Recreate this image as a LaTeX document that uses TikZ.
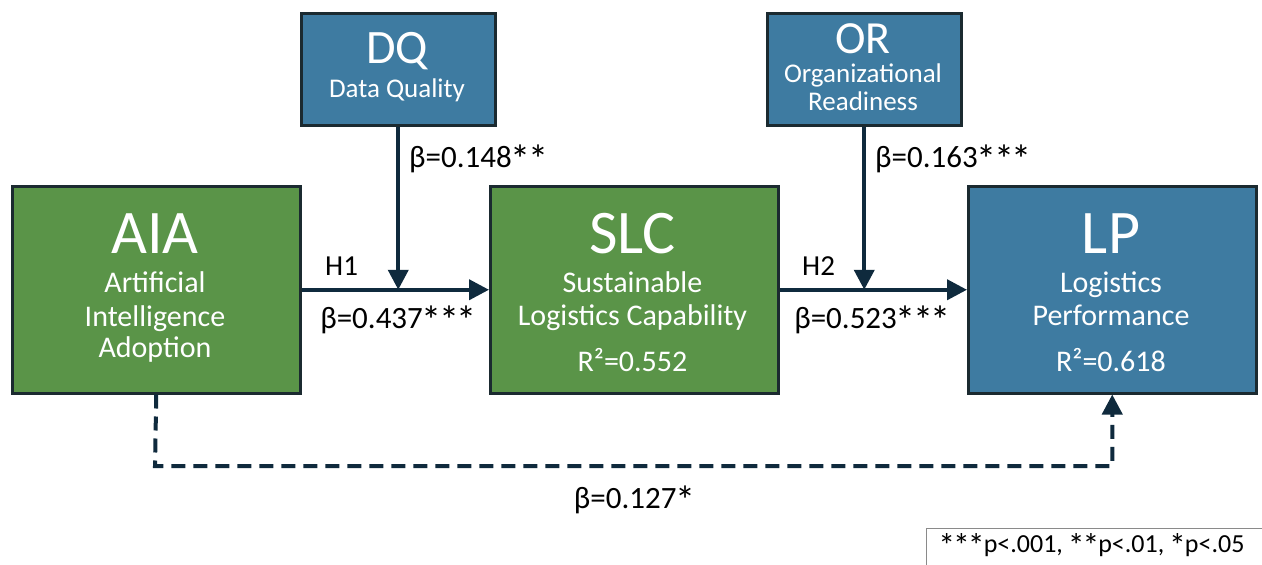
\documentclass[tikz,border=0pt]{standalone}
\usepackage{fontspec}
\usepackage{graphicx}
\setmainfont{Carlito}
\usetikzlibrary{arrows.meta}
\definecolor{boxgreen}{HTML}{5A9448}
\definecolor{boxblue}{HTML}{3E7BA1}
\definecolor{boxedge}{HTML}{1B2A30}
\definecolor{ink}{HTML}{0F2A3D}
\definecolor{legendedge}{HTML}{8A8A8A}
\newcommand{\fs}[1]{\fontsize{#1}{#1}\selectfont}
% a larger significance star
\newcommand{\stm}{\kern-0.04em\raisebox{-0.2em}{\scalebox{1.3}{*}}\kern-0.04em}
\begin{document}
\begin{tikzpicture}[x=1pt,y=-1pt,
  box/.style={draw=boxedge, line width=2.5pt, inner sep=0pt, anchor=north west},
  bigbox/.style={box, minimum width=288pt, minimum height=207pt},
  modbox/.style={box, minimum width=194pt, minimum height=112pt, fill=boxblue},
  txt/.style={anchor=base, inner sep=0pt, text=white},
  lbl/.style={inner sep=0pt, text=black, font=\fs{31}},
  conn/.style={draw=ink, line width=4pt, -{Triangle[length=20pt,width=20pt]}},
  direct/.style={conn, dash pattern=on 14pt off 8pt}]
\useasboundingbox[fill=white] (0,0) rectangle (1262,565);

% construct boxes
\node[bigbox, fill=boxgreen] (aia) at (11,185) {};
\node[bigbox, fill=boxgreen] (slc) at (489,185) {};
\node[bigbox, fill=boxblue]  (lp)  at (967,185) {};
\node[modbox] (dq) at (300,12) {};
\node[modbox] (or) at (766,12) {};

% AIA
\node[txt, font=\fs{62}] (aiaA) at (155,253) {AIA};
\node[txt, font=\fs{30}] (aiaB) at (155,292) {Artificial};
\node[txt, font=\fs{30}] (aiaC) at (155,326) {Intelligence};
\node[txt, font=\fs{30}] (aiaD) at (155,357) {Adoption};

% SLC
\node[txt, font=\fs{62}] (slcA) at (632.5,253) {SLC};
\node[txt, font=\fs{30}] (slcB) at (632.5,292) {Sustainable};
\node[txt, font=\fs{30}] (slcC) at (632.5,325) {Logistics Capability};
\node[txt, font=\fs{30}] (slcD) at (632.5,371) {R²=0.552};

% LP
\node[txt, font=\fs{62}] (lpA) at (1111,253) {LP};
\node[txt, font=\fs{30}] (lpB) at (1111,292) {Logistics};
\node[txt, font=\fs{30}] (lpC) at (1111,325) {Performance};
\node[txt, font=\fs{30}] (lpD) at (1111,371) {R²=0.618};

% moderators
\node[txt, font=\fs{48}] (dqA) at (397,63) {DQ};
\node[txt, font=\fs{27}] (dqB) at (397,97) {Data Quality};
\node[txt, font=\fs{46}] (orA) at (863,53) {OR};
\node[txt, font=\fs{27}] (orB) at (863,82) {Organizational};
\node[txt, font=\fs{27}] (orC) at (863,110) {Readiness};

% paths
\draw[conn] (aia.east) -- (slc.west);
\draw[conn] (slc.east) -- (lp.west);
\draw[conn] (dq.south) -- (dq.south |- aia.east);
\draw[conn] (or.south) -- (or.south |- slc.east);
\coordinate (dleft) at (155,466);
\draw[direct] (aia.south) -- (dleft) -| (lp.south);

% path labels
\node[lbl, anchor=base west] (b148) at (409,167) {β=0.148\stm\stm};
\node[lbl, anchor=base west, font=\fs{29}] (h1) at (325,275) {H1};
\node[lbl, anchor=base] (b437) at (398,328) {β=0.437\stm\stm\stm};
\node[lbl, anchor=base west] (b163) at (875,167) {β=0.163\stm\stm\stm};
\node[lbl, anchor=base west, font=\fs{29}] (h2) at (802,275) {H2};
\node[lbl, anchor=base] (b523) at (872,328) {β=0.523\stm\stm\stm};
\node[lbl, anchor=base] (b127) at (634,508) {β=0.127\stm};

% significance legend, framed up to the page's lower right corner
\draw[legendedge, line width=1pt] (926,528) rectangle (1266,570);
\node[lbl, anchor=base, font=\fs{26}] (legendT) at (1092,552) {\stm\stm\stm p<.001, \stm\stm p<.01, \stm p<.05};
\end{tikzpicture}
\end{document}
